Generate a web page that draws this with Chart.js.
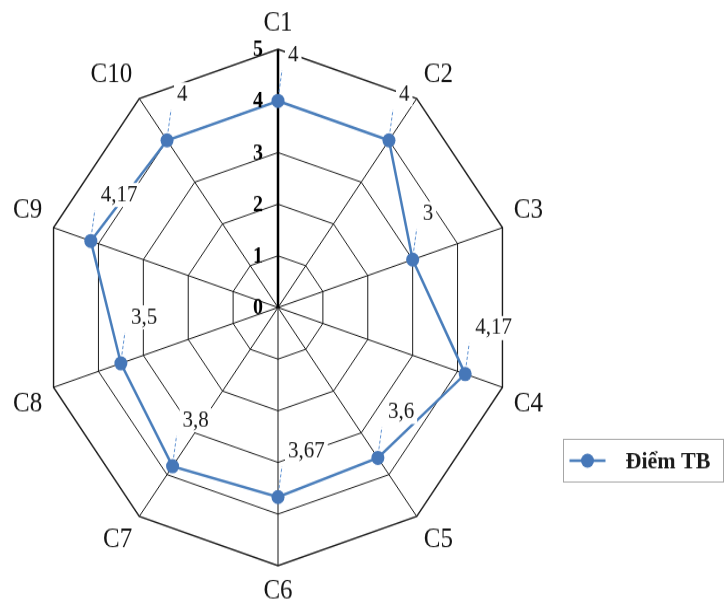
<!DOCTYPE html>
<html>
<head>
<meta charset="utf-8">
<script src="https://cdn.jsdelivr.net/npm/chart.js@4.4.1/dist/chart.umd.min.js"></script>
<style>
  html, body { margin: 0; padding: 0; background: #ffffff; width: 726px; height: 604px; }
  #wrap { width: 726px; height: 552px; transform: scaleY(1.0942); transform-origin: 0 0; }
  canvas { display: block; }
</style>
</head>
<body>
<div id="wrap"><canvas id="radar" width="726" height="552"></canvas></div>
<script>
// Criteria around the radar
const categories = ['C1', 'C2', 'C3', 'C4', 'C5', 'C6', 'C7', 'C8', 'C9', 'C10'];
// Average score per criterion
const diemTB = [4, 4, 3, 4.17, 3.6, 3.67, 3.8, 3.5, 4.17, 4];
// Labels for the value axis
const tickLabels = ['0', '1', '2', '3', '4', '5'];
const seriesName = 'Điểm TB';

const BLUE = '#4a7ebb';
const SERIF = '"Liberation Serif", "Times New Roman", serif';

function fmt(v) {
  return String(v).replace('.', ',');
}

// Bold value-axis numbers drawn just left of the C1 spoke
const axisNumbers = {
  id: 'axisNumbers',
  afterDatasetsDraw(chart) {
    const scale = chart.scales.r;
    const ctx = chart.ctx;
    ctx.save();
    ctx.font = 'bold 20px ' + SERIF;
    ctx.fillStyle = '#000';
    ctx.textAlign = 'right';
    ctx.textBaseline = 'middle';
    scale.ticks.forEach((t, i) => {
      const d = scale.getDistanceFromCenterForValue(t.value);
      ctx.fillText(tickLabels[i], scale.xCenter - 15, scale.yCenter - d + 1);
    });
    ctx.restore();
  }
};

// Value labels with white boxes and short dashed leader lines
const valueLabels = {
  id: 'valueLabels',
  afterDatasetsDraw(chart) {
    const ctx = chart.ctx;
    const meta = chart.getDatasetMeta(0);
    const values = chart.data.datasets[0].data;
    ctx.save();
    ctx.font = '21px ' + SERIF;
    meta.data.forEach((pt, i) => {
      const { x, y } = pt.getProps(['x', 'y'], true);
      const txt = fmt(values[i]);
      ctx.setLineDash([3, 2]);
      ctx.strokeStyle = '#5b8fd0';
      ctx.lineWidth = 1;
      ctx.beginPath();
      ctx.moveTo(x + 1, y - 8);
      ctx.lineTo(x + 4, y - 28);
      ctx.stroke();
      ctx.setLineDash([]);
      const w = ctx.measureText(txt).width;
      const lx = x + 10;
      const cy = y - 42;
      ctx.fillStyle = '#ffffff';
      ctx.fillRect(lx - 3, cy - 11, w + 6, 22);
      ctx.fillStyle = '#1a1a1a';
      ctx.textAlign = 'left';
      ctx.textBaseline = 'middle';
      ctx.fillText(txt, lx, cy);
    });
    ctx.restore();
  }
};

// Boxed legend at the lower right
const boxLegend = {
  id: 'boxLegend',
  afterDraw(chart) {
    const ctx = chart.ctx;
    const ds = chart.data.datasets[0];
    const bx = 563.5, by = 401.5, bw = 160, bh = 39;
    const my = by + bh / 2;
    ctx.save();
    ctx.strokeStyle = '#a6a6a6';
    ctx.lineWidth = 1;
    ctx.strokeRect(bx, by, bw, bh);
    ctx.strokeStyle = ds.borderColor;
    ctx.lineWidth = 2.5;
    ctx.beginPath();
    ctx.moveTo(bx + 6, my);
    ctx.lineTo(bx + 42, my);
    ctx.stroke();
    ctx.fillStyle = ds.pointBackgroundColor;
    ctx.beginPath();
    ctx.arc(bx + 24, my, 6.5, 0, Math.PI * 2);
    ctx.fill();
    ctx.fillStyle = '#1a1a1a';
    ctx.font = 'bold 22px ' + SERIF;
    ctx.textAlign = 'left';
    ctx.textBaseline = 'middle';
    ctx.fillText(ds.label, bx + 62, my + 1);
    ctx.restore();
  }
};

new Chart(document.getElementById('radar'), {
  type: 'radar',
  data: {
    labels: categories,
    datasets: [{
      label: seriesName,
      data: diemTB,
      borderColor: BLUE,
      backgroundColor: BLUE,
      borderWidth: 2.5,
      fill: false,
      pointRadius: 6.5,
      pointBorderWidth: 0,
      pointBackgroundColor: '#4677b8',
      pointHoverRadius: 6.5,
      tension: 0
    }]
  },
  options: {
    responsive: false,
    maintainAspectRatio: false,
    devicePixelRatio: 1,
    animation: false,
    events: [],
    layout: { padding: { left: 0, right: 168, top: 10, bottom: 0 } },
    plugins: {
      legend: { display: false },
      tooltip: { enabled: false }
    },
    scales: {
      r: {
        min: 0,
        max: 5,
        ticks: { stepSize: 1, display: false },
        grid: {
          color: '#1c1c1c',
          lineWidth: (c) => (c.index === 5 ? 1.4 : 1)
        },
        angleLines: {
          color: (c) => (c.index === 0 ? '#000000' : '#151515'),
          lineWidth: (c) => (c.index === 0 ? 2.5 : 1)
        },
        pointLabels: {
          color: '#151515',
          padding: 12,
          font: { family: SERIF, size: 25, lineHeight: 0.92 }
        }
      }
    }
  },
  plugins: [axisNumbers, valueLabels, boxLegend]
});
</script>
</body>
</html>
